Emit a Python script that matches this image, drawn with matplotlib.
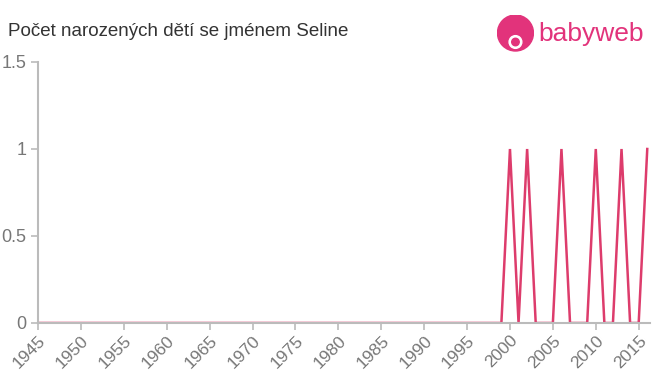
import numpy as np
import matplotlib.pyplot as plt
from matplotlib.patches import Circle

plt.rcParams['font.family'] = ['Liberation Sans', 'DejaVu Sans']

# Data
roky = list(range(1945, 2017))
pocty_od_2000 = [1, 0, 1, 0, 0, 0, 1, 0, 0, 0, 1, 0, 0, 1, 0, 0, 1]
pocty = [0] * (2000 - 1945) + pocty_od_2000
x_ticks = list(range(1945, 2016, 5))
y_ticks = [0, 0.5, 1, 1.5]
y_tick_labels = ["0", "0.5", "1", "1.5"]

fig = plt.figure(figsize=(6.6, 3.75), dpi=100)
ax = fig.add_axes([0.0576, 0.1387, 0.927, 0.696])

ax.plot(roky, pocty, color="#dd3c6c", linewidth=1.8, solid_joinstyle="miter")
ax.set_xlim(1945, 2016.3)
ax.set_ylim(0, 1.5)
ax.set_xticks(x_ticks)
ax.set_xticklabels([str(r) for r in x_ticks], rotation=45, ha="right",
                   rotation_mode="anchor", fontsize=12.5, color="#777777")
ax.set_yticks(y_ticks)
ax.set_yticklabels(y_tick_labels, fontsize=13, color="#777777")

for s in ["top", "right"]:
    ax.spines[s].set_visible(False)
for s in ["left", "bottom"]:
    ax.spines[s].set_color("#bbbbbb")
    ax.spines[s].set_linewidth(1.5)
ax.tick_params(axis="both", colors="#bbbbbb", length=5, width=1.2,
               labelcolor="#777777")
ax.tick_params(axis="x", pad=2)

fig.text(0.012, 0.915, "Počet narozených dětí se jménem Seline",
         fontsize=13.5, color="#333333", va="center")

# Logo
logo = fig.add_axes([0.752, 0.86, 0.058, 0.1])
logo.set_xlim(0, 1)
logo.set_ylim(0, 1)
logo.set_aspect("equal")
logo.axis("off")
logo.add_patch(Circle((0.5, 0.52), 0.48, color="#e2337b"))
logo.add_patch(Circle((0.5, 0.28), 0.17, color="white"))
logo.add_patch(Circle((0.5, 0.28), 0.1, color="#e2337b"))
fig.text(0.815, 0.908, "babyweb", fontsize=19, color="#e2337b", va="center")

fig.savefig("out.png", dpi=100)
